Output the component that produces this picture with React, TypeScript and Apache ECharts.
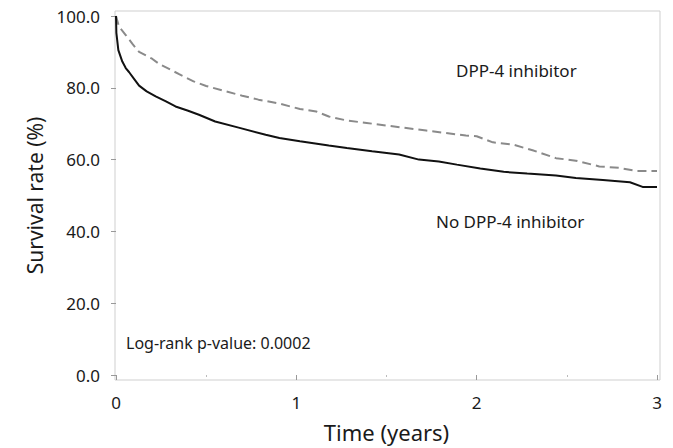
import React, { useEffect, useRef } from "react";
import * as echarts from "echarts";

const yTicks = [0, 20, 40, 60, 80, 100];
const xTicks = [0, 1, 2, 3];

const dppTime = [0, 0.017, 0.054, 0.09, 0.128, 0.2, 0.24, 0.3, 0.35, 0.43, 0.5, 0.61, 0.7, 0.79, 0.906, 1.02, 1.11, 1.18, 1.28, 1.39, 1.5, 1.61, 1.72, 1.83, 1.94, 2.0, 2.09, 2.2, 2.31, 2.44, 2.55, 2.68, 2.79, 2.89, 3.0];
const dppSurv = [100, 97, 94.7, 92.3, 90, 88.1, 86.6, 85.1, 83.8, 81.8, 80.5, 79.0, 77.8, 76.7, 75.6, 74.1, 73.4, 72.0, 70.9, 70.2, 69.5, 68.8, 68.1, 67.4, 66.7, 66.5, 64.8, 64.2, 62.6, 60.4, 59.7, 58.1, 57.7, 56.8, 56.8];

const noTime = [0, 0.002, 0.013, 0.035, 0.054, 0.072, 0.1, 0.128, 0.17, 0.22, 0.277, 0.33, 0.4, 0.46, 0.55, 0.68, 0.83, 0.906, 1.02, 1.18, 1.28, 1.42, 1.57, 1.68, 1.79, 1.89, 2.02, 2.15, 2.28, 2.44, 2.55, 2.7, 2.85, 2.92, 3.0];
const noSurv = [100, 95.3, 90.5, 87.3, 85.5, 84.4, 82.5, 80.6, 79.0, 77.6, 76.2, 74.8, 73.6, 72.5, 70.6, 68.9, 66.9, 66.0, 65.1, 63.9, 63.2, 62.3, 61.4, 60.0, 59.5, 58.6, 57.5, 56.6, 56.1, 55.6, 54.9, 54.3, 53.7, 52.4, 52.4];

const FONT = "Noto Sans";
const TXT = "#1a1a1a";

export default function App() {
  const ref = useRef<HTMLDivElement>(null);
  useEffect(() => {
    if (!ref.current) return;
    const chart = echarts.init(ref.current, null, { renderer: "svg" });
    chart.setOption({
      animation: false,
      backgroundColor: "#ffffff",
      grid: { left: 116, right: 16, top: 16, bottom: 72 },
      xAxis: {
        type: "value",
        min: xTicks[0],
        max: xTicks[xTicks.length - 1],
        interval: 1,
        offset: 4,
        name: "Time (years)",
        nameLocation: "middle",
        nameGap: 42,
        nameTextStyle: { fontFamily: FONT, fontSize: 22, color: TXT },
        axisLine: { show: false },
        axisTick: { show: true, length: 5, lineStyle: { color: "#999", width: 1 } },
        minorTick: { show: true, splitNumber: 2, length: 2, lineStyle: { color: "#bbb" } },
        splitLine: { show: false },
        axisLabel: { fontFamily: FONT, fontSize: 17, color: TXT, margin: 15 },
      },
      yAxis: {
        type: "value",
        min: yTicks[0],
        max: yTicks[yTicks.length - 1],
        interval: 20,
        name: "Survival rate (%)",
        nameLocation: "middle",
        nameGap: 70,
        nameTextStyle: { fontFamily: FONT, fontSize: 21, color: TXT },
        axisLine: { show: false },
        axisTick: { show: true, length: 5, lineStyle: { color: "#999", width: 1 } },
        splitLine: { show: false },
        axisLabel: {
          fontFamily: FONT,
          fontSize: 17,
          color: TXT,
          margin: 16,
          formatter: (v: number) => v.toFixed(1),
        },
      },
      graphic: [
        {
          type: "rect",
          shape: { x: 115, y: 11, width: 545, height: 369 },
          style: { fill: "none", stroke: "#cfcfcf", lineWidth: 1 },
          z: 0,
          silent: true,
        },
        {
          type: "text",
          x: 126,
          y: 343,
          style: { text: "Log-rank p-value: 0.0002", fontFamily: FONT, fontSize: 16, fill: TXT, verticalAlign: "middle" },
        },
        {
          type: "text",
          x: 456,
          y: 70,
          style: { text: "DPP-4 inhibitor", fontFamily: FONT, fontSize: 17, fill: TXT, verticalAlign: "middle" },
        },
        {
          type: "text",
          x: 436,
          y: 221,
          style: { text: "No DPP-4 inhibitor", fontFamily: FONT, fontSize: 17, fill: TXT, verticalAlign: "middle" },
        },
      ],
      series: [
        {
          name: "DPP-4 inhibitor",
          type: "line",
          data: dppTime.map((t, i) => [t, dppSurv[i]]),
          showSymbol: false,
          symbol: "none",
          lineStyle: { color: "#8a8a8a", width: 2, type: [9, 5] },
          z: 3,
        },
        {
          name: "No DPP-4 inhibitor",
          type: "line",
          data: noTime.map((t, i) => [t, noSurv[i]]),
          showSymbol: false,
          symbol: "none",
          lineStyle: { color: "#111111", width: 2 },
          z: 4,
        },
      ],
    });
    return () => chart.dispose();
  }, []);
  return <div ref={ref} style={{ width: 673, height: 448, position: "absolute", left: 0, top: 0 }} />;
}
